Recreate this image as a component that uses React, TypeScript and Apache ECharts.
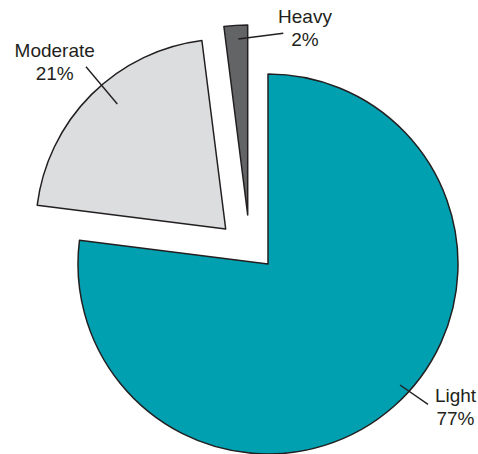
import React, { useEffect, useRef } from "react";
import * as echarts from "echarts";

// Data
const categories: string[] = ["Light", "Moderate", "Heavy"];
const values: number[] = [77, 21, 2];

// Styling / layout (not data)
const colors: string[] = ["#00A0B1", "#DCDDDF", "#636466"];
const sliceCenters: number[][] = [
  [268, 264],
  [225.7, 229],
  [247.7, 215],
];
const labelCenters: number[][] = [
  [455.5, 406.6],
  [54.7, 61.9],
  [305, 27.9],
];
const leaderLines: number[][][] = [
  [[400, 385], [428, 404.3]],
  [[86, 66.7], [117.3, 104]],
  [[238.3, 39], [283.3, 33.3]],
];

export default function App() {
  const ref = useRef<HTMLDivElement>(null);

  useEffect(() => {
    document.body.style.margin = "0";
    if (!ref.current) return;
    const chart = echarts.init(ref.current, undefined, { renderer: "svg" });

    const series = categories.map((_, k) => ({
      type: "pie",
      center: sliceCenters[k],
      radius: 190,
      startAngle: 90,
      clockwise: true,
      silent: true,
      avoidLabelOverlap: false,
      emphasis: { disabled: true },
      label: {
        show: true,
        position: "outside",
        formatter: (p: any) => `${p.name}\n${Math.round(p.percent)}%`,
        fontFamily: "Liberation Sans, Arial, sans-serif",
        fontSize: 19,
        lineHeight: 23,
        color: "#231F20",
        align: "center",
      },
      labelLine: { show: false },
      labelLayout: (p: any) =>
        p.dataIndex === k
          ? {
              x: labelCenters[k][0],
              y: labelCenters[k][1],
              align: "center",
              verticalAlign: "middle",
            }
          : {},
      data: categories.map((name, i) => ({
        name,
        value: values[i],
        itemStyle:
          i === k
            ? { color: colors[i], borderColor: "#231F20", borderWidth: 1.5 }
            : { color: "transparent", borderWidth: 0 },
        label: { show: i === k },
        labelLine: { show: false },
      })),
    }));

    const graphic = leaderLines.map((pts) => ({
      type: "line",
      z: 100,
      silent: true,
      shape: { x1: pts[0][0], y1: pts[0][1], x2: pts[1][0], y2: pts[1][1] },
      style: { stroke: "#231F20", lineWidth: 1.4 },
    }));

    chart.setOption({
      animation: false,
      backgroundColor: "#ffffff",
      series,
      graphic,
    } as any);

    return () => {
      chart.dispose();
    };
  }, []);

  return (
    <div
      ref={ref}
      style={{ position: "absolute", left: 0, top: 0, width: 478, height: 454 }}
    />
  );
}
